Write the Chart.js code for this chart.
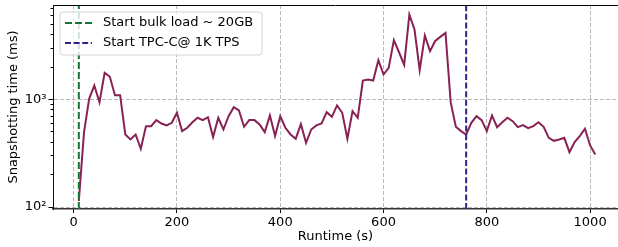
<!DOCTYPE html>
<html>
<head>
<meta charset="utf-8">
<script src="https://cdn.jsdelivr.net/npm/chart.js@4/dist/chart.umd.min.js"></script>
<style>
	html, body { margin: 0; padding: 0; background: #fff; overflow: hidden; }
	canvas { display: block; }
</style>
</head>
<body>
<canvas id="chart" width="618" height="247"></canvas>
<script>
"use strict";

// runtime (s) of each snapshot
const runtime_s = [
	10, 20, 30, 40, 50, 60, 70, 80, 90, 100,
	110, 120, 130, 140, 150, 160, 170, 180, 190, 200,
	210, 220, 230, 240, 250, 260, 270, 280, 290, 300,
	310, 320, 330, 340, 350, 360, 370, 380, 390, 400,
	410, 420, 430, 440, 450, 460, 470, 480, 490, 500,
	510, 520, 530, 540, 550, 560, 570, 580, 590, 600,
	610, 620, 630, 640, 650, 660, 670, 680, 690, 700,
	710, 720, 730, 740, 750, 760, 770, 780, 790, 800,
	810, 820, 830, 840, 850, 860, 870, 880, 890, 900,
	910, 920, 930, 940, 950, 960, 970, 980, 990, 1000,
	1010
]

// snapshotting time (ms)
const snapshot_ms = [
	114, 491, 1015, 1349, 944, 1770, 1625, 1096, 1096, 473,
	425, 473, 348, 565, 565, 643, 598, 574, 607, 752,
	508, 546, 615, 676, 643, 685, 447, 676, 526, 700,
	849, 791, 558, 643, 643, 586, 497, 710, 457, 700,
	546, 473, 432, 590, 396, 526, 574, 598, 762, 690,
	880, 752, 432, 778, 676, 1501, 1534, 1501, 2318, 1706,
	1967, 3555, 2748, 2098, 6152, 4467, 1871, 3926, 2812, 3500,
	3820, 4160, 944, 557, 508, 473, 607, 700, 643, 508,
	710, 553, 615, 676, 629, 553, 578, 541, 565, 615,
	557, 440, 413, 425, 440, 324, 402, 457, 535, 374,
	308
]

// event markers
const marker_labels	= ["Start bulk load ~ 20GB", "Start TPC-C@ 1K TPS"]
const marker_x		= [10, 760]

// axes
const x_ticks			= [0, 200, 400, 600, 800, 1000]
const y_major_ticks		= [100, 1000]
const y_major_labels	= ["10\u00b2", "10\u00b3"]
const y_minor_ticks		= [200, 300, 400, 500, 600, 700, 800, 900, 2000, 3000, 4000, 5000, 6000, 7000]

const X_MIN = -40
const X_MAX = 1054
const Y_MIN = 96
const Y_MAX = 7550

const FONT_FAMILY	= "'DejaVu Sans', sans-serif"
const GRID_COLOR	= "#b8b8b8"
const marker_colors	= ["#117733", "#332288"]
const marker_dash	= [[7, 3], [6, 2.6]]

Chart.defaults.font.family	= FONT_FAMILY
Chart.defaults.font.size	= 13
Chart.defaults.color		= "#000"

// build datasets
const series_points = runtime_s.map((t, i) => ({x: t, y: snapshot_ms[i]}))

const marker_datasets = marker_x.map((xv, i) => ({
	label			: marker_labels[i],
	data			: [{x: xv, y: Y_MIN}, {x: xv, y: Y_MAX}],
	borderColor		: marker_colors[i],
	borderWidth		: 2,
	borderDash		: marker_dash[i],
	pointRadius		: 0,
	order			: 0
}))

// legend inside the plot, drawn over the data with a translucent frame
const inside_legend = {
	id: "inside_legend",
	afterDatasetsDraw(chart) {
		const ctx	= chart.ctx
		const area	= chart.chartArea
		const bx = area.left + 7, by = area.top + 7, bw = 202, bh = 43

		ctx.save()
		ctx.beginPath()
		ctx.roundRect(bx, by, bw, bh, 3)
		ctx.fillStyle = "rgba(255,255,255,0.8)"
		ctx.fill()
		ctx.strokeStyle = "#d4d4d4"
		ctx.lineWidth = 1
		ctx.stroke()

		ctx.font = "13px " + FONT_FAMILY
		ctx.textBaseline = "middle"
		ctx.fillStyle = "#000"
		marker_datasets.forEach((ds, i) => {
			const cy = by + 11 + i * 20
			ctx.beginPath()
			ctx.setLineDash(ds.borderDash)
			ctx.strokeStyle = ds.borderColor
			ctx.lineWidth = 2
			ctx.moveTo(bx + 5, cy)
			ctx.lineTo(bx + 32, cy)
			ctx.stroke()
			ctx.setLineDash([])
			ctx.fillText(ds.label, bx + 43, cy)
		})
		ctx.restore()
	}
}

// top spine
const top_spine = {
	id: "top_spine",
	afterDraw(chart) {
		const ctx	= chart.ctx
		const area	= chart.chartArea
		ctx.save()
		ctx.strokeStyle = "#000"
		ctx.lineWidth = 1
		ctx.beginPath()
		ctx.moveTo(area.left, area.top + 0.5)
		ctx.lineTo(area.right, area.top + 0.5)
		ctx.stroke()
		ctx.restore()
	}
}

const chart = new Chart(document.getElementById("chart"), {
	type: "line",
	data: {
		datasets: [
			{
				label			: "snapshot",
				data			: series_points,
				borderColor		: "#882255",
				borderWidth		: 2,
				pointRadius		: 0,
				tension			: 0,
				order			: 1
			},
			...marker_datasets
		]
	},
	options: {
		responsive	: false,
		animation	: false,
		devicePixelRatio: 1,
		layout: {
			padding: {top: 5, right: 0, bottom: 0, left: 0}
		},
		plugins: {
			legend	: {display: false},
			tooltip	: {enabled: false}
		},
		scales: {
			x: {
				type	: "linear",
				min		: X_MIN,
				max		: X_MAX,
				afterBuildTicks: (scale) => {
					scale.ticks = x_ticks.map((v) => ({value: v}))
				},
				afterFit: (scale) => {
					scale.height = 38
				},
				ticks: {
					padding		: 2,
					maxRotation	: 0,
					callback	: (v) => String(v)
				},
				grid: {
					color		: GRID_COLOR,
					lineWidth	: 1,
					tickColor	: "#000",
					tickLength	: 4
				},
				border: {
					color	: "#333",
					width	: 1.4,
					dash	: [4, 2]
				},
				title: {
					display	: true,
					text	: "Runtime (s)",
					padding	: {top: 0, bottom: 3}
				}
			},
			// main log axis: major ticks, labels, grid
			y: {
				type	: "logarithmic",
				position: "left",
				weight	: 1,
				min		: Y_MIN,
				max		: Y_MAX,
				afterBuildTicks: (scale) => {
					scale.ticks = y_major_ticks.map((v) => ({value: v, major: true}))
				},
				afterFit: (scale) => {
					scale.width = 53
					scale.paddingTop = 0
					scale.paddingBottom = 0
				},
				ticks: {
					padding		: 2,
					autoSkip	: false,
					callback	: (v) => {
						const idx = y_major_ticks.indexOf(v)
						return idx >= 0 ? y_major_labels[idx] : ""
					}
				},
				grid: {
					color		: GRID_COLOR,
					lineWidth	: 1,
					tickColor	: "#000",
					tickLength	: 4.5
				},
				border: {
					color	: "#111",
					width	: 1,
					dash	: [4, 2]
				},
				title: {
					display	: true,
					text	: "Snapshotting time (ms)",
					padding	: {top: 6, bottom: 0}
				}
			},
			// minor log ticks only (short marks on the spine)
			y_minor: {
				type	: "logarithmic",
				position: "left",
				weight	: 0,
				min		: Y_MIN,
				max		: Y_MAX,
				afterBuildTicks: (scale) => {
					scale.ticks = y_minor_ticks.map((v) => ({value: v}))
				},
				afterFit: (scale) => {
					scale.width = 0
					scale.paddingTop = 0
					scale.paddingBottom = 0
				},
				ticks: {display: false},
				grid: {
					drawOnChartArea	: false,
					tickColor		: "#000",
					tickLength		: 2.5,
					lineWidth		: 1
				},
				border: {display: false}
			}
		}
	},
	plugins: [inside_legend, top_spine]
})
</script>
</body>
</html>
